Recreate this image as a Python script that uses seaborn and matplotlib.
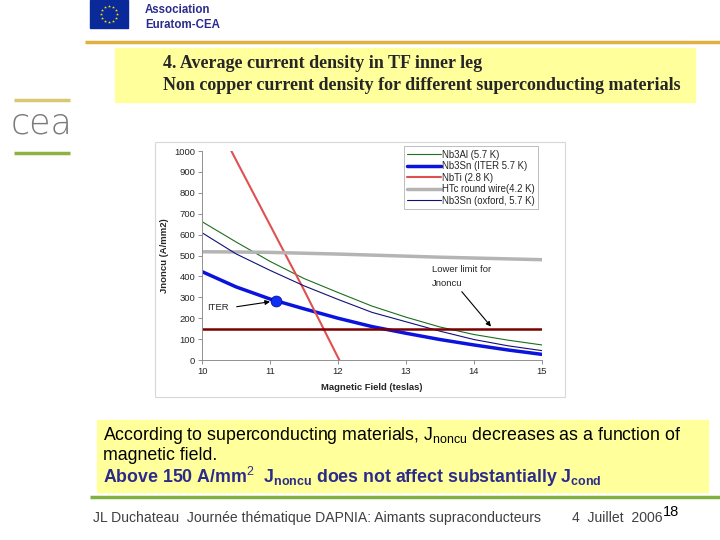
import numpy as np
import pandas as pd
import matplotlib
matplotlib.use("Agg")
import matplotlib.pyplot as plt
from matplotlib.patches import Rectangle
import seaborn as sns

# data (field in T, Jnoncu in A/mm2)
field = [10, 10.5, 11, 11.5, 12, 12.5, 13, 13.5, 14, 14.5, 15]
nb3al = [662, 565, 472, 390, 323, 258, 205, 158, 122, 95, 72]
nb3sn_iter = [423, 350, 292, 245, 200, 160, 128, 98, 72, 48, 27]
nb3sn_oxford = [609, 508, 429, 355, 290, 228, 183, 138, 98, 68, 45]
htc = [518, 517, 515, 511, 507, 502, 497, 492, 488, 484, 480]

nbti_field = [10.4, 10.5, 11, 11.5, 12, 12.02]
nbti = [1020, 957, 646, 335, 12, 0]

lower_limit = 150
iter_point = (11.09, 282)

labels = ["Nb3Al (5.7 K)", "Nb3Sn (ITER 5.7 K)", "NbTi (2.8 K)",
          "HTc round wire(4.2 K)", "Nb3Sn (oxford, 5.7 K)"]

sns.set_theme(style="white")
plt.rcParams["font.family"] = ["Liberation Sans", "DejaVu Sans"]
plt.rcParams["mathtext.fontset"] = "custom"
plt.rcParams["mathtext.rm"] = "Liberation Sans"
plt.rcParams["mathtext.bf"] = "Liberation Sans:bold"

fig = plt.figure(figsize=(7.2, 5.4), dpi=100)

# slide background in pixel coordinates
bg = fig.add_axes([0, 0, 1, 1])
bg.set_xlim(0, 720)
bg.set_ylim(540, 0)
bg.axis("off")

# EU flag
bg.add_patch(Rectangle((90, 0), 38, 28, color="#0a2a9a"))
ang = np.linspace(0, 2 * np.pi, 13)[:-1]
bg.scatter(109 + 8 * np.cos(ang), 14 + 8 * np.sin(ang), marker="*", s=5,
           color="#ffdd00", linewidths=0)
bg.text(145, 10, "Association", color="#2b2b8c", fontsize=8.3, va="center",
        fontweight="bold")
bg.text(145, 25, "Euratom-CEA", color="#2b2b8c", fontsize=8.3, va="center",
        fontweight="bold")
bg.plot([85, 720], [42, 42], color="#e0b040", lw=2.5, solid_capstyle="butt")

# title box
bg.add_patch(Rectangle((115, 48), 580, 54, color="#ffff9c"))
bg.text(163, 63, "4. Average current density in TF inner leg",
        family="Liberation Serif", fontweight="bold", fontsize=13, va="center")
bg.text(163, 85, "Non copper current density for different superconducting materials",
        family="Liberation Serif", fontweight="bold", fontsize=13, va="center")

# cea logo
bg.plot([14, 70], [100, 100], color="#d8c870", lw=2.5, solid_capstyle="butt")
bg.text(42, 124, "cea", color="#7a7a7a", fontsize=25, ha="center", va="center",
        family="DejaVu Sans", fontweight="light")
bg.plot([14, 70], [153, 153], color="#90b040", lw=2.5, solid_capstyle="butt")

# chart frame
bg.add_patch(Rectangle((155, 142), 410, 255, facecolor="white",
                       edgecolor="#d8d8d8", lw=0.8))

# bottom text box
bg.add_patch(Rectangle((97, 420), 611, 72, color="#ffff9c"))
bg.text(103, 435, r"According to superconducting materials, J$_{\mathrm{noncu}}$ decreases as a function of",
        fontsize=12.8, va="center", color="black")
bg.text(103, 456, "magnetic field.", fontsize=12.8, va="center", color="black")
bg.text(103, 477, r"Above 150 A/mm$^{\mathrm{2}}$  J$_{\mathbf{noncu}}$ does not affect substantially J$_{\mathbf{cond}}$",
        fontsize=12.8, va="center", color="#2b2b8c", fontweight="bold")
bg.plot([90, 720], [497, 497], color="#80b040", lw=2.5, solid_capstyle="butt")

# footer
bg.text(93, 518, "JL Duchateau  Journée thématique DAPNIA: Aimants supraconducteurs",
        fontsize=10.1, va="center", color="#404040")
bg.text(572, 518, "4  Juillet  2006", fontsize=10.1, va="center", color="#404040")
bg.text(663, 512, "18", fontsize=10.5, va="center", color="black")

# chart
ax = fig.add_axes([0.2806, 0.3333, 0.4722, 0.387])
ax.set_facecolor("none")

sns.lineplot(x=field, y=nb3al, ax=ax, color="#1e6e1e", lw=0.8, label=labels[0])
sns.lineplot(x=field, y=nb3sn_iter, ax=ax, color="#0a14dc", lw=2.5, label=labels[1])
sns.lineplot(x=nbti_field, y=nbti, ax=ax, color="#e05050", lw=1.5, label=labels[2])
sns.lineplot(x=field, y=htc, ax=ax, color="#b4b4b4", lw=2.5, label=labels[3])
sns.lineplot(x=field, y=nb3sn_oxford, ax=ax, color="#10107a", lw=0.8, label=labels[4])
ax.plot([field[0], field[-1]], [lower_limit, lower_limit], color="#7a0000", lw=1.8)

ax.scatter([iter_point[0]], [iter_point[1]], s=62, color="#1030f0",
           edgecolors="#0000a0", linewidths=0.5, zorder=5)
ax.annotate("ITER", xy=(11.0, 279), xytext=(10.08, 249), fontsize=6.8,
            va="center")
ax.annotate("", xy=(11.0, 279), xytext=(10.51, 255),
            arrowprops=dict(arrowstyle="-|>", color="black", lw=0.8,
                            mutation_scale=7, shrinkA=0, shrinkB=0))
ax.annotate("", xy=(14.25, 160), xytext=(13.82, 327),
            arrowprops=dict(arrowstyle="-|>", color="black", lw=0.8,
                            mutation_scale=7, shrinkA=0, shrinkB=0))
ax.text(13.38, 431, "Lower limit for", fontsize=6.8, va="center")
ax.text(13.38, 366, "Jnoncu", fontsize=6.8, va="center")

ax.set_xlim(10, 15)
ax.set_ylim(0, 1000)
ax.set_xticks(range(10, 16))
ax.set_yticks(range(0, 1001, 100))
ax.tick_params(labelsize=6.8, length=3, width=0.6, color="#808080", pad=2,
               direction="out", left=True, bottom=True)
for s in ["top", "right"]:
    ax.spines[s].set_visible(False)
for s in ["left", "bottom"]:
    ax.spines[s].set_color("#909090")
    ax.spines[s].set_linewidth(0.7)
ax.set_xlabel("Magnetic Field (teslas)", fontsize=6.8, fontweight="bold", labelpad=5)
ax.set_ylabel("Jnoncu (A/mm2)", fontsize=6.8, fontweight="bold", labelpad=4)

leg = ax.legend(loc="upper left", bbox_to_anchor=(0.594, 1.022), fontsize=6.9,
                frameon=True, fancybox=False, borderpad=0.35, labelspacing=0.15,
                handlelength=3.5, handletextpad=0.1, borderaxespad=0)
leg.get_frame().set_edgecolor("#a0a0a0")
leg.get_frame().set_linewidth(0.6)

fig.savefig("out.png", dpi=100)
